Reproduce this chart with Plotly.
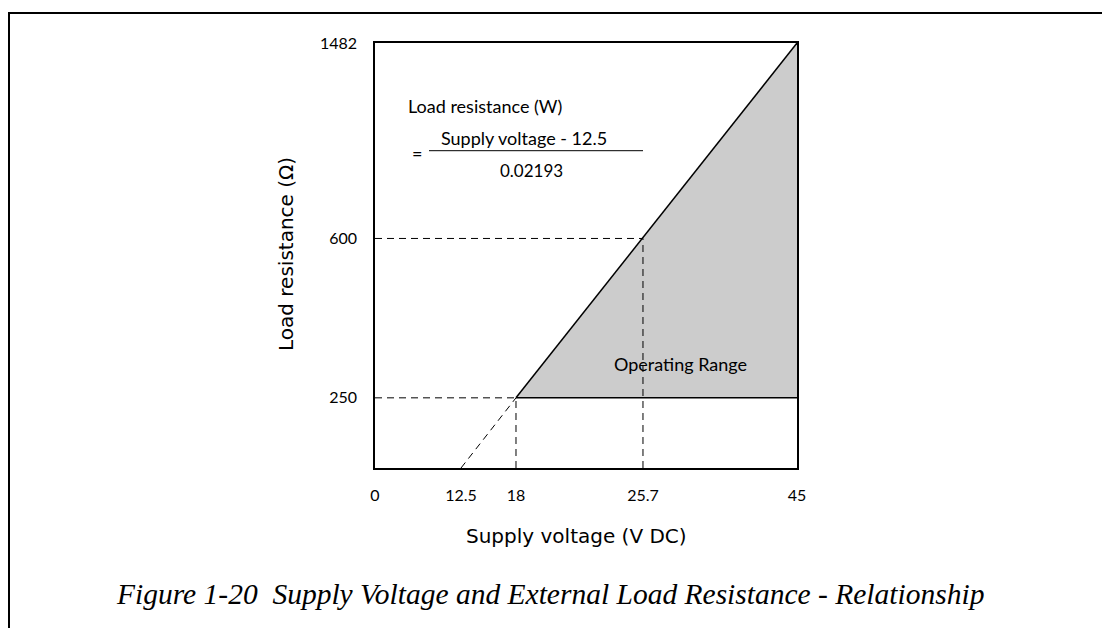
import numpy as np
import plotly.graph_objects as go

# ---- Data ----
x_tick_values = [0, 12.5, 18, 25.7, 45]          # supply voltage, V DC
x_tick_labels = ["0", "12.5", "18", "25.7", "45"]
y_tick_values = [0, 250, 600, 1482]               # load resistance, ohm
y_tick_labels = ["", "250", "600", "1482"]

zero_load_voltage = 12.5
min_voltage = 18
mid_voltage = 25.7
max_voltage = 45
min_load = 250
mid_load = 600
max_load = 1482

# ---- Schematic (non-linear) scale used by the original drawing ----
x_scale = [0, 0.2038, 0.3341, 0.635, 1.0]
y_scale = [0, 0.1651, 0.5401, 1.0]


def sx(v):
    return list(np.interp(v, x_tick_values, x_scale))


def sy(v):
    return list(np.interp(v, y_tick_values, y_scale))


W, H = 1102, 628
PX0, PX1, PY0, PY1 = 375, 797, 43, 468   # plot box in pixels
TXT = "Lato"
TITLE = "DejaVu Sans"

fig = go.Figure()

# Operating range (shaded)
fig.add_trace(go.Scatter(
    x=sx([min_voltage, max_voltage, max_voltage, min_voltage]),
    y=sy([min_load, max_load, min_load, min_load]),
    fill="toself", fillcolor="#cccccc", line=dict(width=0),
    mode="lines", hoverinfo="skip", showlegend=False))

dash = "7px,5px"
dashed = dict(color="black", width=1, dash=dash)
fig.add_trace(go.Scatter(x=sx([0, min_voltage]), y=sy([min_load, min_load]),
                         mode="lines", line=dashed, showlegend=False))
fig.add_trace(go.Scatter(x=sx([0, mid_voltage]), y=sy([mid_load, mid_load]),
                         mode="lines", line=dashed, showlegend=False))
fig.add_trace(go.Scatter(x=sx([min_voltage, min_voltage]), y=sy([0, min_load]),
                         mode="lines", line=dashed, showlegend=False))
fig.add_trace(go.Scatter(x=sx([mid_voltage, mid_voltage]), y=sy([0, mid_load]),
                         mode="lines", line=dashed, showlegend=False))
fig.add_trace(go.Scatter(x=sx([zero_load_voltage, min_voltage]), y=sy([0, min_load]),
                         mode="lines", line=dashed, showlegend=False))

# solid boundaries
solid = dict(color="black", width=1.5)
fig.add_trace(go.Scatter(x=sx([min_voltage, max_voltage]), y=sy([min_load, max_load]),
                         mode="lines", line=solid, showlegend=False))
fig.add_trace(go.Scatter(x=sx([min_voltage, max_voltage]), y=sy([min_load, min_load]),
                         mode="lines", line=solid, showlegend=False))

axis_common = dict(showgrid=False, zeroline=False, showline=True, linecolor="black",
                   linewidth=1.5, mirror=True, ticks="", range=[0, 1], automargin=False,
                   tickfont=dict(family=TXT, size=16, color="black"))

fig.update_layout(
    width=W, height=H,
    margin=dict(l=0, r=0, t=0, b=0, pad=0, autoexpand=False),
    paper_bgcolor="white", plot_bgcolor="white",
    xaxis=dict(domain=[PX0 / W, PX1 / W], tickmode="array",
               tickvals=sx(x_tick_values), ticktext=x_tick_labels, ticklabelstandoff=12,
               **axis_common),
    yaxis=dict(domain=[1 - PY1 / H, 1 - PY0 / H], tickmode="array",
               tickvals=sy(y_tick_values), ticktext=y_tick_labels, ticklabelstandoff=13,
               **axis_common),
    showlegend=False,
)


def px(x):
    return x / W


def py(y):
    return 1 - y / H


def note(text, x, y, size=18, xanchor="center", angle=0, family=TXT, italic=False):
    fig.add_annotation(text=text, x=px(x), y=py(y), xref="paper", yref="paper",
                       showarrow=False, xanchor=xanchor, yanchor="middle", textangle=angle,
                       font=dict(family=family, size=size, color="black",
                                 style="italic" if italic else "normal"))


# formula
note("Load resistance (W)", 406, 106, size=18, xanchor="left")
note("=", 417, 153, size=18)
note("Supply voltage - 12.5", 524, 138, size=18)
note("0.02193", 531, 170, size=17)
fig.add_shape(type="line", xref="paper", yref="paper", x0=px(429), x1=px(643),
              y0=py(150.7), y1=py(150.7), line=dict(color="black", width=1))

note("Operating Range", 612, 364, size=18, xanchor="left")

# axis titles
note("Load resistance (Ω)", 286, 254, size=20, angle=-90, family=TITLE)
note("Supply voltage (V DC)", 576, 536, size=20, family=TITLE)

# caption
note("Figure 1-20  Supply Voltage and External Load Resistance - Relationship",
     550, 594, size=29.5, family="Liberation Serif", italic=True)

# outer frame (top and left edges)
fig.add_shape(type="line", xref="paper", yref="paper", x0=px(8), x1=1.0,
              y0=py(13), y1=py(13), line=dict(color="black", width=2))
fig.add_shape(type="line", xref="paper", yref="paper", x0=px(9), x1=px(9),
              y0=py(12), y1=0, line=dict(color="black", width=2))

fig.write_html("out.html", config={"displayModeBar": False},
               post_script="document.body.style.margin='0';document.body.style.overflow='hidden';")
